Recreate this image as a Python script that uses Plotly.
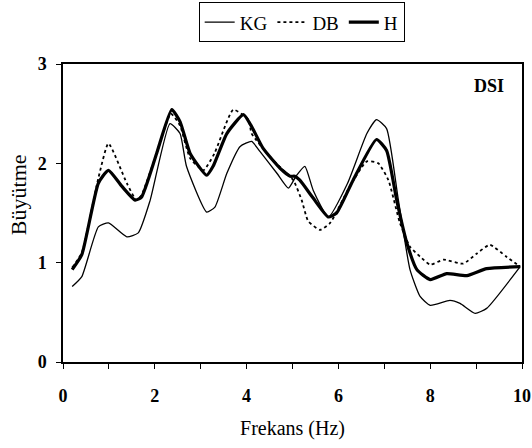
import plotly.graph_objects as go

# KG series
kg_x = [0.2, 0.41, 0.77, 0.99, 1.39, 1.64, 1.9, 2.33, 2.55, 2.69, 3.13, 3.31, 3.57, 3.86,
        4.11, 4.29, 4.66, 4.91, 5.09, 5.27, 5.45, 5.78, 6.2, 6.62, 6.83, 7.05, 7.3, 7.56,
        7.78, 8.0, 8.43, 8.65, 8.98, 9.23, 9.96]
kg_y = [0.76, 0.86, 1.36, 1.40, 1.26, 1.30, 1.63, 2.40, 2.30, 1.97, 1.51, 1.56, 1.90, 2.17,
        2.22, 2.12, 1.90, 1.75, 1.88, 1.97, 1.73, 1.46, 1.80, 2.30, 2.44, 2.35, 1.65, 0.93,
        0.66, 0.57, 0.62, 0.59, 0.49, 0.54, 0.96]

# DB series
db_x = [0.2, 0.41, 0.77, 0.99, 1.39, 1.6, 1.71, 2.04, 2.35, 2.55, 2.77, 3.06, 3.3, 3.71,
        4.04, 4.11, 4.58, 4.87, 5.02, 5.2, 5.34, 5.6, 5.82, 6.25, 6.62, 6.87, 7.09, 7.34,
        7.56, 7.78, 8.0, 8.29, 8.72, 9.01, 9.3, 9.66, 9.96]
db_y = [0.95, 1.10, 1.85, 2.20, 1.80, 1.63, 1.68, 2.10, 2.50, 2.38, 2.05, 1.93, 2.10, 2.54,
        2.44, 2.30, 2.03, 1.90, 1.83, 1.63, 1.42, 1.33, 1.40, 1.77, 2.02, 2.00, 1.83, 1.40,
        1.16, 1.06, 0.98, 1.03, 0.99, 1.09, 1.18, 1.06, 0.96]

# H series
h_x = [0.2, 0.41, 0.77, 0.99, 1.28, 1.57, 1.71, 2.04, 2.37, 2.55, 2.77, 3.13, 3.27, 3.57,
       3.93, 4.11, 4.36, 4.73, 4.95, 5.05, 5.16, 5.45, 5.78, 5.96, 6.32, 6.83, 7.05, 7.27,
       7.49, 7.71, 8.0, 8.36, 8.8, 9.23, 9.96]
h_y = [0.93, 1.08, 1.80, 1.93, 1.77, 1.63, 1.66, 2.10, 2.54, 2.42, 2.10, 1.88, 1.97, 2.30,
       2.49, 2.37, 2.15, 1.95, 1.87, 1.87, 1.83, 1.65, 1.46, 1.50, 1.83, 2.24, 2.13, 1.63,
       1.20, 0.93, 0.83, 0.89, 0.87, 0.94, 0.96]

x_ticks = [0, 2, 4, 6, 8, 10]
y_ticks = [0, 1, 2, 3]

FONT = "Liberation Serif"

fig = go.Figure()
fig.add_trace(go.Scatter(x=kg_x, y=kg_y, name="KG", mode="lines",
                         line=dict(color="black", width=1.3, shape="spline", smoothing=0.5)))
fig.add_trace(go.Scatter(x=db_x, y=db_y, name="DB", mode="lines",
                         line=dict(color="black", width=1.8, dash="dot", shape="spline", smoothing=0.5)))
fig.add_trace(go.Scatter(x=h_x, y=h_y, name="H", mode="lines",
                         line=dict(color="black", width=3.2, shape="spline", smoothing=0.5)))

fig.update_layout(
    width=532, height=448,
    margin=dict(l=63, r=10, t=64, b=86, autoexpand=False),
    paper_bgcolor="white", plot_bgcolor="white",
    font=dict(family=FONT, size=18, color="black"),
    showlegend=True,
    legend=dict(orientation="h", x=0.52, xanchor="center", y=1.207, yanchor="top",
                bordercolor="black", borderwidth=1, bgcolor="white",
                font=dict(family=FONT, size=19, color="black"),
                itemwidth=30, tracegroupgap=0),
    xaxis=dict(range=[0, 10], tickvals=x_ticks, ticktext=[str(v) for v in x_ticks],
               showgrid=False, zeroline=False, showline=True, linecolor="black", linewidth=1.5,
               mirror=True, ticks="outside", ticklen=5, tickcolor="black",
               minor=dict(dtick=1, ticks="outside", ticklen=5, tickcolor="black"),
               tickfont=dict(family=FONT, size=18, weight="bold"), ticklabelstandoff=12,
               title=dict(text="Frekans (Hz)", font=dict(family=FONT, size=20), standoff=16)),
    yaxis=dict(range=[0, 3], tickvals=y_ticks, ticktext=[str(v) for v in y_ticks],
               showgrid=False, zeroline=False, showline=True, linecolor="black", linewidth=1.5,
               mirror=True, ticks="outside", ticklen=5, tickcolor="black",
               tickfont=dict(family=FONT, size=18, weight="bold"), ticklabelstandoff=6),
    annotations=[
        dict(text="DSI", xref="paper", yref="paper", x=0.966, y=0.925, xanchor="right",
             yanchor="middle", showarrow=False, font=dict(family=FONT, size=18, weight="bold")),
        dict(text="Büyütme", xref="paper", yref="paper", x=-0.098, y=0.56, xanchor="center",
             yanchor="middle", textangle=-90, showarrow=False,
             font=dict(family=FONT, size=22)),
    ],
)

fig.write_html("out.html")
